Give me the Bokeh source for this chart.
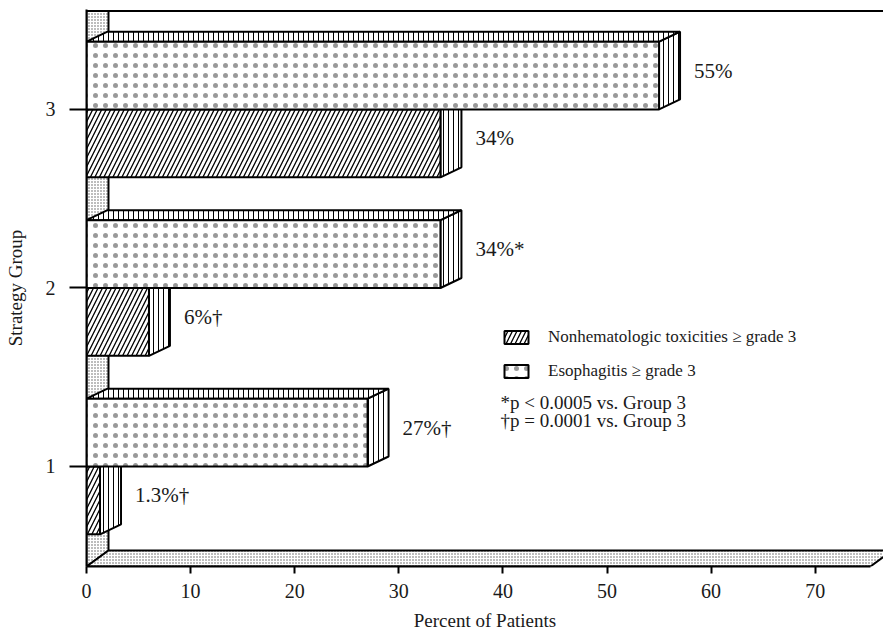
from bokeh.plotting import figure
from bokeh.models import Range1d, FixedTicker, Legend, LegendItem, ColumnDataSource
from bokeh.core.properties import value
from bokeh.embed import file_html
from bokeh.resources import INLINE

# ---------------- data ----------------
groups = [1, 2, 3]
nonhem = [1.3, 6, 34]
esoph = [27, 34, 55]
nonhem_text = ["1.3%\u2020", "6%\u2020", "34%"]
esoph_text = ["27%\u2020", "34%*", "55%"]
x_ticks = [0, 10, 20, 30, 40, 50, 60, 70]
series_names = ["Nonhematologic toxicities \u2265 grade 3", "Esophagitis \u2265 grade 3"]
footnotes = ["*p < 0.0005 vs. Group 3", "\u2020p = 0.0001 vs. Group 3"]
x_title = "Percent of Patients"
y_title = "Strategy Group"

# ---------------- layout / style constants ----------------
W, H = 883, 636
BL, BB, BT, BR = 86, 70, 9, 0
PXX = 10.41                          # px per x unit
X0 = 0.0
X1 = (W - BL - BR) / PXX
Y0, Y1 = 0.4398, 3.560
PXY = (H - BT - BB) / (Y1 - Y0)      # px per y unit
BH = 0.38                            # bar thickness (group units)
DX, DY = 21 / PXX, 10 / PXY          # bar depth
WDX, WDY = 22 / PXX, 16 / PXY        # wall / floor depth
TOP = Y1 - 1.5 / PXY
FLOOR_END = 75.3
FONT = "Liberation Serif"
INK = "#1a1a1a"

p = figure(width=W, height=H, output_backend="svg", toolbar_location=None,
           x_range=Range1d(X0, X1), y_range=Range1d(Y0, Y1),
           min_border_left=BL, min_border_bottom=BB, min_border_top=BT,
           min_border_right=BR)
p.outline_line_color = None
p.grid.grid_line_color = None
p.background_fill_color = "white"
p.border_fill_color = "white"

# ---------------- walls ----------------
wall_style = dict(fill_color="white", hatch_pattern="dot", hatch_scale=3,
                  hatch_weight=1, hatch_color="#5a5a5a",
                  line_color="black", line_width=2)
p.patches(xs=[[0, 0, WDX, WDX]], ys=[[Y0, TOP, TOP, Y0 + WDY]], **wall_style)
p.patches(xs=[[0, FLOOR_END, FLOOR_END + WDX, WDX]],
          ys=[[Y0, Y0, Y0 + WDY, Y0 + WDY]], **wall_style)
p.segment(x0=[0], y0=[TOP], x1=[X1], y1=[TOP], line_color="black", line_width=2)

# ---------------- bars ----------------
def faces(vals, bottoms):
    sx, sy, tx, ty = [], [], [], []
    for v, b in zip(vals, bottoms):
        t = b + BH
        sx.append([v, v + DX, v + DX, v])
        sy.append([t, t + DY, b + DY, b])
        tx.append([0, DX, v + DX, v])
        ty.append([t, t + DY, t + DY, t])
    return sx, sy, tx, ty

face_style = dict(fill_color="white", hatch_pattern="vertical_line",
                  hatch_scale=5, hatch_weight=1, hatch_color="black",
                  line_color="black", line_width=2)

nh_bottom = [g - BH for g in groups]
es_bottom = [g for g in groups]

sx, sy, tx, ty = faces(nonhem, nh_bottom)
p.patches(xs=sx, ys=sy, **face_style)
p.patches(xs=tx, ys=ty, **face_style)
r_nh = p.hbar(y=[b + BH / 2 for b in nh_bottom], right=nonhem, left=0, height=BH,
              fill_color="white", hatch_pattern="right_diagonal_line",
              hatch_scale=9, hatch_weight=1.3, hatch_color="black",
              line_color="black", line_width=2)

sx, sy, tx, ty = faces(esoph, es_bottom)
p.patches(xs=sx, ys=sy, **face_style)
p.patches(xs=tx, ys=ty, **face_style)
r_es = p.hbar(y=[b + BH / 2 for b in es_bottom], right=esoph, left=0, height=BH,
              fill_color="white", hatch_pattern="dot",
              hatch_scale=10, hatch_weight=0.4, hatch_color="#333333",
              hatch_alpha=0.5, line_color="black", line_width=2)

# ---------------- value labels ----------------
lab_src = ColumnDataSource(dict(
    x=nonhem + esoph,
    y=[b + BH / 2 for b in nh_bottom] + [b + BH / 2 for b in es_bottom],
    t=nonhem_text + esoph_text))
p.text(x="x", y="y", text="t", source=lab_src, x_offset=35, y_offset=-5,
       text_baseline="middle", text_align="left", text_font=value(FONT),
       text_font_size="21px", text_color=INK)

# ---------------- legend + footnotes ----------------
legend = Legend(items=[LegendItem(label=series_names[0], renderers=[r_nh]),
                       LegendItem(label=series_names[1], renderers=[r_es])],
                location=(415, 185), glyph_width=30, glyph_height=16,
                label_height=16, spacing=14, padding=0, margin=0,
                label_standoff=17, border_line_alpha=0, background_fill_alpha=0,
                label_text_font=FONT, label_text_font_size="17px",
                label_text_color=INK)
p.add_layout(legend)

fx = (500 - 86) / PXX
fy = [3 - (402 - 109) / PXY, 3 - (420 - 109) / PXY]
p.text(x=[fx, fx], y=fy, text=footnotes, text_baseline="middle",
       text_align="left", text_font=value(FONT), text_font_size="19px",
       text_color=INK)

# ---------------- axes ----------------
p.xaxis.ticker = FixedTicker(ticks=x_ticks)
p.yaxis.ticker = FixedTicker(ticks=groups)
p.xaxis.bounds = (0, FLOOR_END)
p.xaxis.axis_label = x_title
p.yaxis.axis_label = y_title
for ax in (p.xaxis, p.yaxis):
    ax.axis_line_width = 2
    ax.axis_line_color = "black"
    ax.major_tick_line_width = 2
    ax.major_tick_line_color = "black"
    ax.major_tick_in = 0
    ax.minor_tick_line_color = None
    ax.major_label_text_font = FONT
    ax.major_label_text_font_size = "20px"
    ax.major_label_text_color = INK
    ax.axis_label_text_font = FONT
    ax.axis_label_text_font_size = "19px"
    ax.axis_label_text_font_style = "normal"
    ax.axis_label_text_color = INK
p.xaxis.major_tick_out = 7
p.xaxis.major_label_standoff = 10
p.xaxis.axis_label_standoff = 9
p.yaxis.major_tick_out = 17
p.yaxis.major_label_standoff = 14
p.yaxis.axis_label_standoff = 17

open("out.html", "w").write(file_html(p, INLINE))
